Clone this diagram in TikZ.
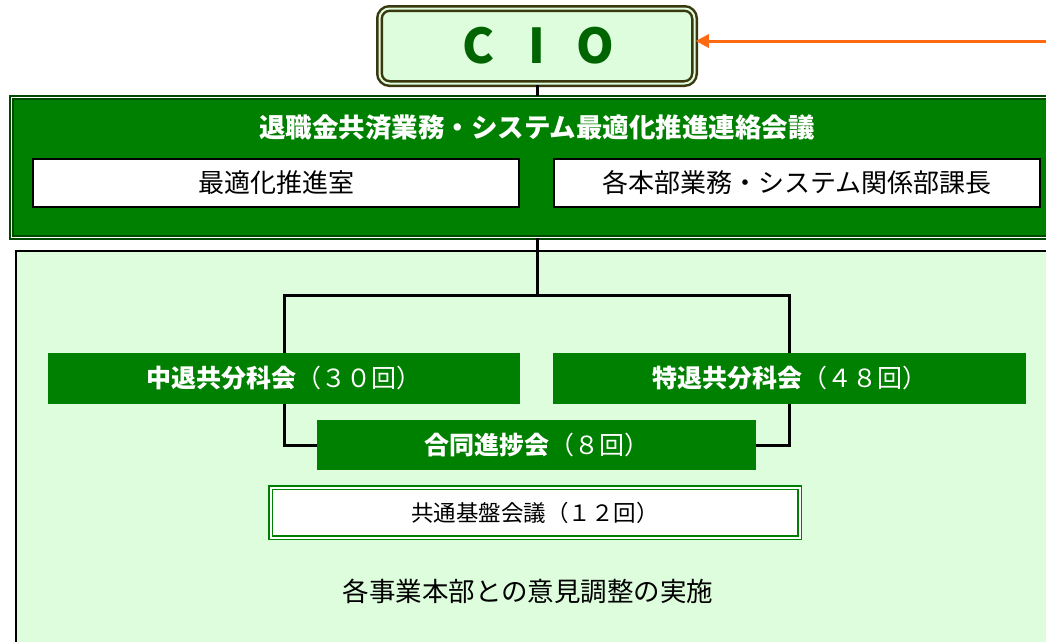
\documentclass[tikz,border=0pt]{standalone}
\usepackage{fontspec}
\setmainfont{Noto Sans CJK JP}
\usetikzlibrary{arrows.meta}
\definecolor{lgreen}{HTML}{DDFDDD}
\definecolor{mgreen}{HTML}{008000}
\definecolor{dgreen}{HTML}{004A00}
\definecolor{ciotext}{HTML}{006400}
\definecolor{cioline}{HTML}{3B3810}
\definecolor{orangeline}{HTML}{FF6A10}
\tikzset{
  x=1pt, y=-1pt,
  conn/.style={line width=3pt, black},
  whitebox/.style={draw=black, line width=2pt, fill=white, minimum width=486pt, minimum height=48pt, inner sep=0pt, font=\fontsize{26}{26}\selectfont},
  greenbox/.style={fill=mgreen, draw=none, text=white, minimum height=51pt, inner sep=0pt, font=\fontsize{25}{25}\selectfont},
}
\begin{document}
\begin{tikzpicture}
\useasboundingbox (0,0) rectangle (1046,641);
% lower light panel
\node[draw=black, line width=2pt, fill=lgreen, minimum width=1040pt, minimum height=400pt, inner sep=0pt] (lower) at (536,451) {};
% council panel
\node[fill=mgreen, draw=dgreen, line width=2pt, double=white, double distance=1pt, minimum width=1038pt, minimum height=140pt, inner sep=0pt] (council) at (530,167) {};
\node[text=white, font=\fontsize{26.5}{26.5}\selectfont\bfseries] (ctitle) at (537,128) {退職金共済業務・システム最適化推進連絡会議};
\node[whitebox] (opt) at (276,183) {最適化推進室};
\node[whitebox] (dept) at (797,183) {各本部業務・システム関係部課長};
% CIO
\node[draw=cioline, line width=2.5pt, double=lgreen, double distance=2pt, fill=lgreen, rounded corners=10pt, minimum width=315pt, minimum height=75pt, inner sep=0pt, text=ciotext, font=\fontsize{48}{48}\selectfont\bfseries] (cio) at (537,46) {\makebox[58pt]{C}\makebox[58pt]{I}\makebox[58pt]{O}};
\coordinate (ext) at (1046,41);
\draw[orangeline, line width=3pt, -{Triangle[length=13pt,width=13pt]}] (ext) -- (cio.east |- ext);
\draw[conn] (cio.south) -- (cio.south |- council.north);
% subcommittees
\node[greenbox, minimum width=472pt] (chu) at (284,378.5) {{\bfseries 中退共分科会}（３０回）};
\node[greenbox, minimum width=473pt] (toku) at (789.5,378.5) {{\bfseries 特退共分科会}（４８回）};
\node[greenbox, minimum width=439pt, minimum height=50pt] (godo) at (536.5,445) {{\bfseries 合同進捗会}（８回）};
\coordinate (junc) at (537,295);
\draw[conn] (cio.south |- council.south) -- (junc);
\draw[conn] (chu.north) |- (junc) -| (toku.north);
\draw[conn] (chu.south) |- (godo.west);
\draw[conn] (toku.south) |- (godo.east);
% common infrastructure
\node[draw=mgreen, line width=1.6pt, double=white, double distance=2pt, fill=white, minimum width=529pt, minimum height=50pt, inner sep=0pt, font=\fontsize{22.5}{22.5}\selectfont] (kyotsu) at (535,512.5) {共通基盤会議（１２回）};
\node[font=\fontsize{26.5}{26.5}\selectfont] (adj) at (528,591) {各事業本部との意見調整の実施};
\end{tikzpicture}
\end{document}
